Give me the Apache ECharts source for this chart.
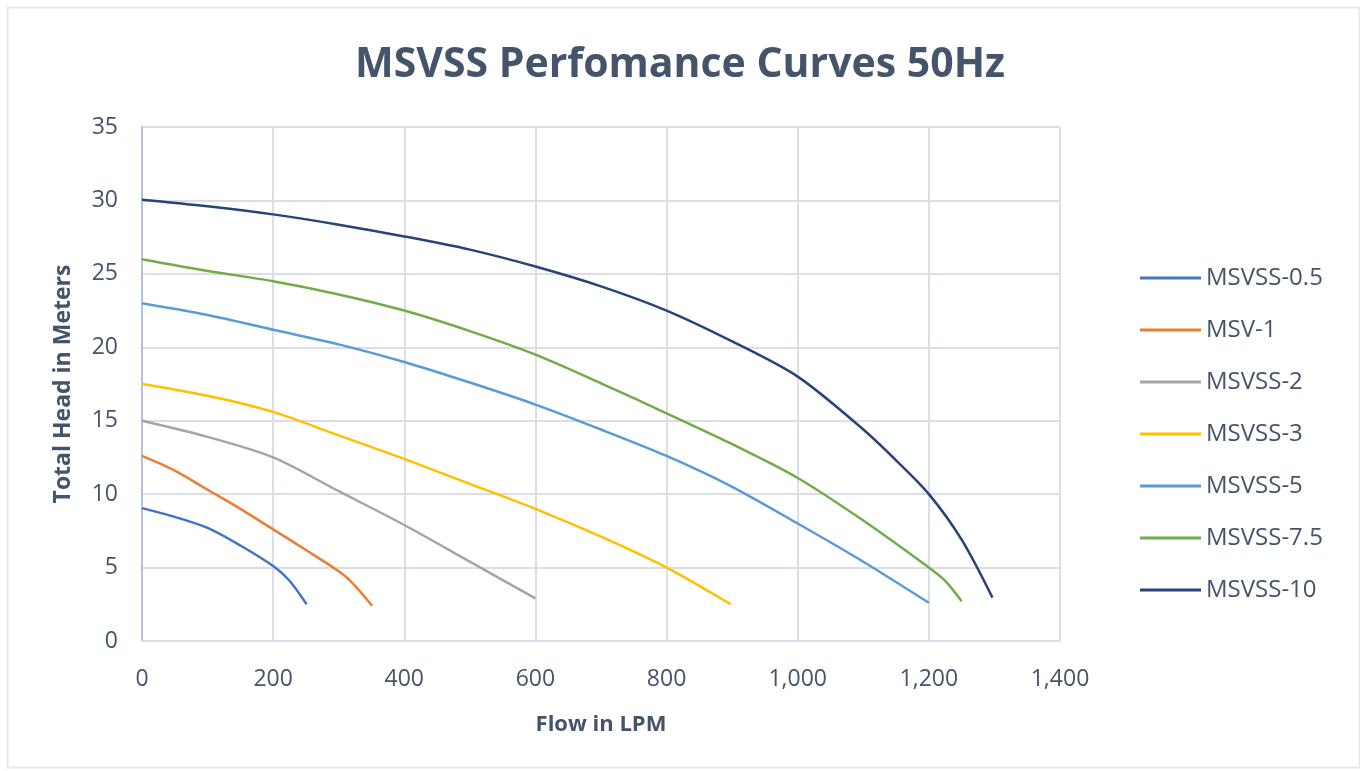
<!DOCTYPE html>
<html>
<head>
<meta charset="utf-8">
<script src="https://cdn.jsdelivr.net/npm/echarts@6/dist/echarts.min.js"></script>
<style>html,body{margin:0;padding:0;background:#fff}#c{width:1360px;height:771px}</style>
</head>
<body>
<div id="c"></div>
<script>
const seriesNames = ['MSVSS-0.5','MSV-1','MSVSS-2','MSVSS-3','MSVSS-5','MSVSS-7.5','MSVSS-10'];
const flow05 = [0, 50, 100, 150, 200, 225, 251];
const head05 = [9.05, 8.45, 7.7, 6.5, 5.1, 4.1, 2.5];
const flow1 = [0, 50, 100, 150, 200, 250, 300, 320, 351];
const head1 = [12.6, 11.6, 10.3, 9.0, 7.6, 6.2, 4.75, 4.0, 2.4];
const flow2 = [0, 100, 200, 300, 400, 500, 600];
const head2 = [15.0, 13.9, 12.5, 10.2, 7.9, 5.4, 2.9];
const flow3 = [0, 100, 200, 300, 400, 500, 600, 700, 800, 898];
const head3 = [17.5, 16.7, 15.6, 14.0, 12.4, 10.7, 9.0, 7.1, 5.0, 2.5];
const flow5 = [0, 100, 200, 300, 400, 500, 600, 700, 800, 900, 1000, 1100, 1200];
const head5 = [23.0, 22.2, 21.2, 20.2, 19.0, 17.6, 16.1, 14.4, 12.6, 10.5, 8.0, 5.4, 2.6];
const flow75 = [0, 100, 200, 300, 400, 500, 600, 700, 800, 900, 1000, 1100, 1200, 1225, 1250];
const head75 = [26.0, 25.2, 24.5, 23.6, 22.5, 21.1, 19.5, 17.55, 15.5, 13.4, 11.1, 8.2, 5.0, 4.1, 2.7];
const flow10 = [0, 100, 200, 300, 400, 500, 600, 700, 800, 900, 1000, 1100, 1150, 1200, 1250, 1297];
const head10 = [30.05, 29.6, 29.05, 28.35, 27.55, 26.65, 25.5, 24.15, 22.5, 20.4, 18.0, 14.4, 12.3, 10.0, 6.9, 2.95];
const xTicks = [0, 200, 400, 600, 800, 1000, 1200, 1400];
const yTicks = [0, 5, 10, 15, 20, 25, 30, 35];
const colors = ['#4472C4','#ED7D31','#A5A5A5','#FFC000','#5B9BD5','#70AD47','#264478'];

const flows = [flow05, flow1, flow2, flow3, flow5, flow75, flow10];
const heads = [head05, head1, head2, head3, head5, head75, head10];

const textColor = '#44546A';
const font = 'Open Sans';

const chart = echarts.init(document.getElementById('c'), null, {renderer: 'canvas'});
chart.setOption({
  backgroundColor: '#fff',
  animation: false,
  color: colors,
  graphic: [{
    type: 'rect', left: 5, top: 5,
    shape: {width: 1352, height: 760},
    style: {fill: 'none', stroke: '#E3E7EE', lineWidth: 2},
    silent: true
  }],
  title: {
    text: 'MSVSS Perfomance Curves 50Hz',
    left: 'center', top: 40,
    textStyle: {fontFamily: font, fontWeight: 'bold', fontSize: 41, color: textColor}
  },
  grid: {left: 142, right: 300, top: 127, bottom: 130},
  legend: {
    orient: 'vertical',
    left: 1140, top: 262, padding: 0,
    itemWidth: 61, itemHeight: 3, itemGap: 20,
    icon: 'rect',
    textStyle: {fontFamily: font, fontSize: 24, color: textColor, lineHeight: 32},
    data: seriesNames
  },
  xAxis: {
    type: 'value', min: 0, max: 1400, interval: 200,
    name: 'Flow in LPM', nameLocation: 'middle', nameGap: 73,
    nameTextStyle: {fontFamily: font, fontWeight: 'bold', fontSize: 22, color: textColor},
    axisLine: {show: true, lineStyle: {color: '#D9DEE7', width: 2}},
    axisTick: {show: false},
    axisLabel: {fontFamily: font, fontSize: 23, color: textColor, margin: 27,
      formatter: v => xTicks.includes(v) ? v.toLocaleString('en-US') : ''},
    splitLine: {show: true, lineStyle: {color: '#D9DEE7', width: 2}}
  },
  yAxis: {
    type: 'value', min: 0, max: 35, interval: 5,
    name: 'Total Head in Meters', nameLocation: 'middle', nameGap: 67, nameRotate: 90,
    nameTextStyle: {fontFamily: font, fontWeight: 'bold', fontSize: 23, color: textColor},
    axisLine: {show: true, lineStyle: {color: '#B4C1D6', width: 2}},
    axisTick: {show: false},
    axisLabel: {fontFamily: font, fontSize: 23, color: textColor, margin: 24,
      formatter: v => yTicks.includes(v) ? String(v) : ''},
    splitLine: {show: true, lineStyle: {color: '#D9DEE7', width: 2}}
  },
  series: seriesNames.map((n, i) => ({
    name: n,
    type: 'line',
    smooth: 0.3,
    showSymbol: false,
    symbol: 'none',
    lineStyle: {width: 2.5, color: colors[i]},
    itemStyle: {color: colors[i]},
    data: flows[i].map((x, j) => [x, heads[i][j]])
  }))
});
</script>
</body>
</html>
